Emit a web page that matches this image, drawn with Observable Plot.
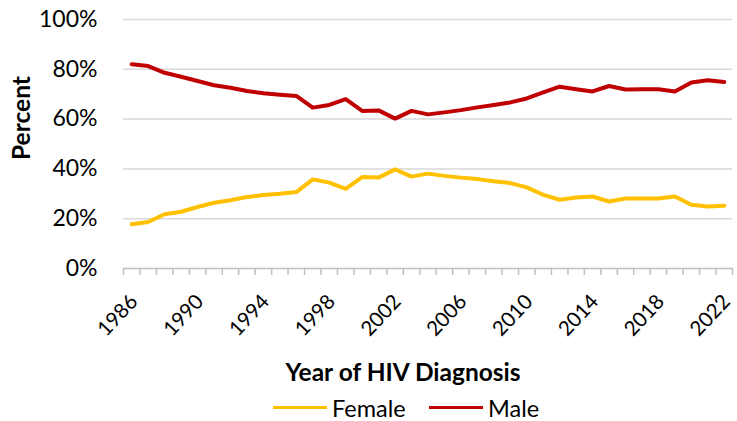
<!DOCTYPE html>
<html>
<head>
<meta charset="utf-8">
<script src="https://cdn.jsdelivr.net/npm/d3@7"></script>
<script src="https://cdn.jsdelivr.net/npm/@observablehq/plot@0.6"></script>
<style>
  html, body { margin: 0; padding: 0; background: #fff; }
  #chart { width: 737px; height: 421px; position: relative; }
  .legend { position: absolute; left: 0; top: 390px; height: 31px; width: 737px;
    font-family: Lato, "Open Sans", sans-serif; font-size: 23.5px; color: #000; }
  .legend .item { position: absolute; top: 2px; height: 31px; display: flex; align-items: center; }
  .legend .sw { display: inline-block; width: 54px; height: 3.5px; margin-right: 5px; }
</style>
</head>
<body>
<div id="chart"></div>
<script>
const years = [1986,1987,1988,1989,1990,1991,1992,1993,1994,1995,1996,1997,1998,1999,2000,2001,2002,2003,2004,
  2005,2006,2007,2008,2009,2010,2011,2012,2013,2014,2015,2016,2017,2018,2019,2020,2021,2022];
const female = [17.8,18.7,21.8,22.8,24.7,26.4,27.4,28.7,29.5,30.0,30.7,35.8,34.5,32.0,36.7,36.5,39.8,36.9,38.1,
  37.2,36.5,35.9,35.0,34.3,32.6,29.6,27.6,28.5,28.9,26.9,28.1,28.1,28.1,28.9,25.6,24.9,25.2];
const male = [82.0,81.3,78.6,77.0,75.3,73.6,72.6,71.3,70.4,69.8,69.3,64.6,65.7,68.0,63.3,63.5,60.2,63.3,61.9,
  62.7,63.6,64.7,65.7,66.7,68.3,70.7,73.0,72.0,71.1,73.3,71.9,72.0,72.0,71.1,74.7,75.6,74.9];
const seriesNames = ["Female", "Male"];
const seriesColors = ["#FFC000", "#C00000"];
const yTicks = [0, 20, 40, 60, 80, 100];
const xTickYears = [1986, 1990, 1994, 1998, 2002, 2006, 2010, 2014, 2018, 2022];
const xTitle = "Year of HIV Diagnosis";
const yTitle = "Percent";

const rows = [];
years.forEach((yr, i) => {
  rows.push({year: yr, value: female[i], sex: seriesNames[0]});
  rows.push({year: yr, value: male[i], sex: seriesNames[1]});
});
const boundaries = years.map(y => y - 0.5).concat([years[years.length - 1] + 0.5]);

const plot = Plot.plot({
  width: 737,
  height: 390,
  marginLeft: 123,
  marginRight: 5,
  marginTop: 19,
  marginBottom: 122,
  style: { fontFamily: "Lato, 'Open Sans', sans-serif", fontSize: "23px", color: "#000", background: "#fff" },
  x: { domain: [years[0] - 0.5, years[years.length - 1] + 0.5] },
  y: { domain: [0, 100] },
  color: { domain: seriesNames, range: seriesColors },
  marks: [
    Plot.gridY(yTicks.filter(d => d > 0), { stroke: "#d9d9d9", strokeOpacity: 1, strokeWidth: 1.5 }),
    Plot.axisY(yTicks, { tickSize: 0, tickPadding: 26, tickFormat: d => d + "%", label: null, fontSize: 23 }),
    Plot.axisX(boundaries, { tickSize: 7, tickFormat: () => "", label: null, stroke: "#bfbfbf", strokeWidth: 1.5, strokeOpacity: 1 }),
    Plot.ruleY([0], { stroke: "#bfbfbf", strokeWidth: 1.5 }),
    Plot.text(xTickYears, { x: d => d, text: d => String(d), frameAnchor: "bottom", dx: -14, dy: 47, rotate: -47, textAnchor: "middle", lineAnchor: "middle", fontSize: 20.5 }),
    Plot.line(rows, { x: "year", y: "value", z: "sex", stroke: "sex", strokeWidth: 4, strokeLinejoin: "round", strokeLinecap: "round" }),
    Plot.text([yTitle], { frameAnchor: "left", dx: -101, dy: 16, rotate: -90, fontWeight: "bold", fontSize: 24.5, lineAnchor: "middle" }),
    Plot.text([xTitle], { frameAnchor: "bottom", dx: -25, dy: 105, fontWeight: "bold", fontSize: 24.5, lineAnchor: "middle" })
  ]
});

const chart = document.getElementById("chart");
chart.appendChild(plot);

const legend = document.createElement("div");
legend.className = "legend";
const lefts = [273, 429];
seriesNames.forEach((name, i) => {
  const item = document.createElement("div");
  item.className = "item";
  item.style.left = lefts[i] + "px";
  const sw = document.createElement("span");
  sw.className = "sw";
  sw.style.background = seriesColors[i];
  const t = document.createElement("span");
  t.textContent = name;
  item.appendChild(sw);
  item.appendChild(t);
  legend.appendChild(item);
});
chart.appendChild(legend);
</script>
</body>
</html>
